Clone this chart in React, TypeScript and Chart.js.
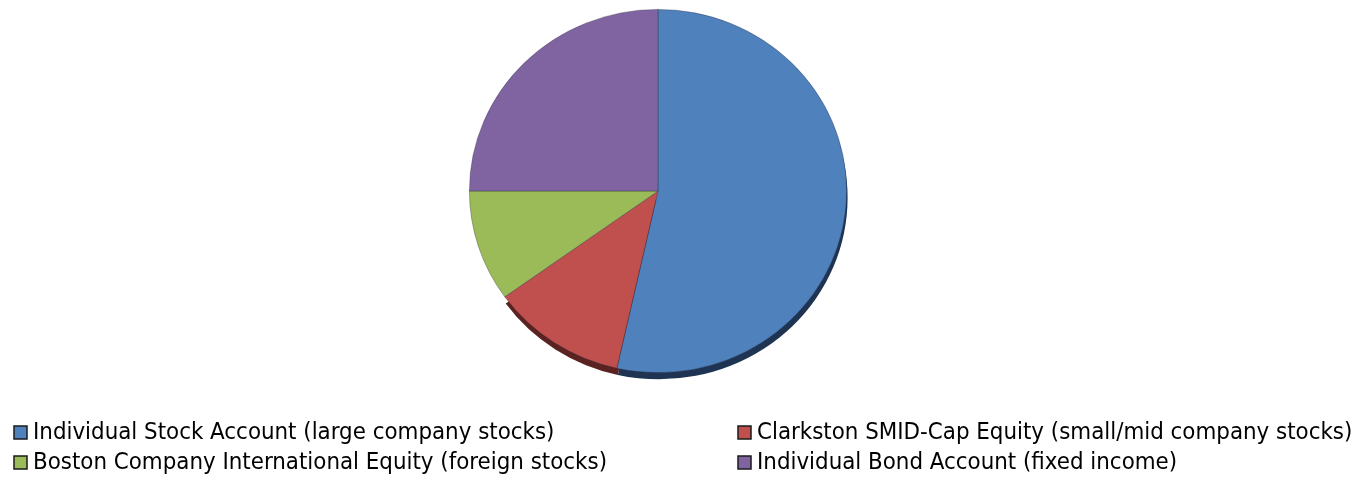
import React, { useEffect, useRef } from "react";
import { Chart, registerables } from "chart.js";

Chart.register(...registerables);

const categories = [
  "Individual Stock Account (large company stocks)",
  "Clarkston SMID-Cap Equity (small/mid company stocks)",
  "Boston Company International Equity (foreign stocks)",
  "Individual Bond Account (fixed income)",
];
const values = [53.5, 11.6, 9.9, 25.0];
const colors = ["#4f81bd", "#c0504d", "#9bbb59", "#8064a2"];
const shadowColors = ["#1e3452", "#5a2220", "rgba(0,0,0,0)", "rgba(0,0,0,0)"];

const FONT = "'Liberation Sans Narrow', 'DejaVu Sans Condensed', 'Liberation Sans', sans-serif";

export default function App() {
  const ref = useRef<HTMLCanvasElement | null>(null);
  useEffect(() => {
    if (!ref.current) return;
    const squash = 182 / 189;
    const tiltPlugin = {
      id: "tilt",
      beforeDatasetsDraw(chart: any) {
        const ctx = chart.ctx;
        const meta = chart.getDatasetMeta(0);
        const first = meta.data[0];
        if (!first) return;
        const cx = first.x;
        const cy = first.y;
        ctx.save();
        ctx.translate(cx, cy);
        ctx.scale(1, squash);
        ctx.translate(-cx, -cy);
        meta.data.forEach((arc: any, i: number) => {
          const p = arc.getProps(["x", "y", "startAngle", "endAngle", "outerRadius"], true);
          ctx.beginPath();
          ctx.moveTo(p.x + 1, p.y + 7);
          ctx.arc(p.x + 1, p.y + 7, p.outerRadius, p.startAngle, p.endAngle);
          ctx.closePath();
          ctx.fillStyle = shadowColors[i];
          ctx.fill();
        });
      },
      afterDatasetsDraw(chart: any) {
        chart.ctx.restore();
      },
    };
    const legendPlugin = {
      id: "customLegend",
      afterDraw(chart: any) {
        const ctx = chart.ctx;
        const cols = [14, 738];
        const rows = [433, 463];
        const order = [0, 1, 2, 3];
        ctx.save();
        ctx.font = `23.8px ${FONT}`;
        ctx.textBaseline = "middle";
        ctx.textAlign = "left";
        order.forEach((idx, k) => {
          const x = cols[k % 2];
          const y = rows[Math.floor(k / 2)];
          ctx.fillStyle = colors[idx];
          ctx.fillRect(x, y - 7, 13, 13);
          ctx.strokeStyle = "#1a1a1a";
          ctx.lineWidth = 1.5;
          ctx.strokeRect(x, y - 7, 13, 13);
          ctx.fillStyle = "#000000";
          ctx.fillText(chart.data.labels[idx], x + 19, y);
        });
        ctx.restore();
      },
    };
    const chart = new Chart(ref.current, {
      type: "pie",
      data: {
        labels: categories,
        datasets: [
          {
            data: values,
            backgroundColor: colors,
            borderColor: "rgba(40,40,60,0.45)",
            borderWidth: 0.8,
            clip: false,
          } as any,
        ],
      },
      options: {
        responsive: false,
        animation: false,
        rotation: 0,
        layout: { padding: { left: 469, right: 511, top: 2, bottom: 99 } },
        plugins: {
          legend: { display: false },
          tooltip: { enabled: false },
        },
      },
      plugins: [tiltPlugin, legendPlugin],
    });
    return () => chart.destroy();
  }, []);
  return (
    <div style={{ position: "absolute", left: 0, top: 0, width: 1358, height: 479, background: "#ffffff" }}>
      <canvas ref={ref} width={1358} height={479} style={{ display: "block" }} />
    </div>
  );
}
